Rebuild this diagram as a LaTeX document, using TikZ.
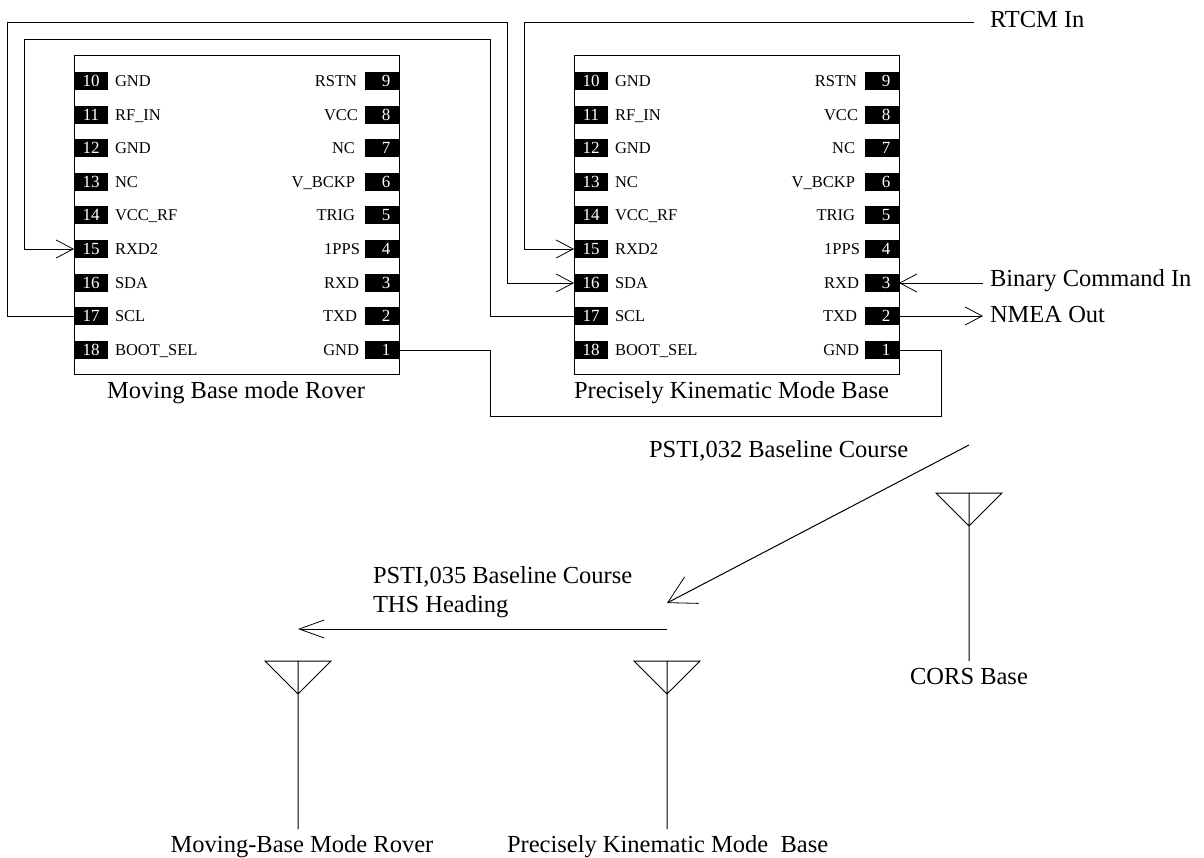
\documentclass[tikz,border=0pt]{standalone}
\usepackage{fontspec}
\setmainfont{Liberation Serif}
\usetikzlibrary{arrows.meta, positioning}
\tikzset
{
pin/.style={fill=black, text=white, inner sep=0pt, outer sep=0pt, minimum width=34pt, minimum height=18pt, font=\fontsize{17}{17}\selectfont},
pintext/.style={inner sep=0pt, outer sep=0pt, text height=11pt, text depth=0pt, font=\fontsize{16.5}{17}\selectfont},
title/.style={inner sep=0pt, outer sep=0pt, font=\fontsize{24.5}{26}\selectfont},
chipbox/.style={draw, inner sep=0pt, outer sep=0pt, minimum width=325pt, minimum height=319pt},
wire/.style={line width=1pt},
sig/.style={line width=1pt, -{Straight Barb[length=17pt, width=18pt, line width=0.8pt]}},
longsig/.style={line width=1pt, -{Straight Barb[length=25pt, width=18pt, line width=0.8pt]}},
bigsig/.style={line width=1pt, -{Straight Barb[length=27pt, width=30pt, line width=0.8pt]}},
chip/.pic={
	\node [chipbox, anchor=north west] (box) at (0, 0) {};
	\foreach \n/\t/\y in {10/GND/26, 11/RF\_IN/60, 12/GND/93, 13/NC/127, 14/VCC\_RF/160, 15/RXD2/194, 16/SDA/228, 17/SCL/261, 18/BOOT\_SEL/295}
	{
		\node [pin, anchor=west] (\n) at (0, \y) {\n};
		\node [pintext, right=7pt of \n] (t\n) {\t};
	}
	\foreach \n/\t/\y/\g in {9/RSTN/26/8, 8/VCC/60/7, 7/NC/93/10, 6/V\_BCKP/127/10, 5/TRIG/160/10, 4/1PPS/194/5, 3/RXD/228/6, 2/TXD/261/8, 1/GND/295/6}
	{
		\node [pin, anchor=east] (\n) at (325, \y) {\hspace{8pt}\n};
		\node [pintext, left=\g pt of \n] (t\n) {\t};
	}
},
antenna/.pic={
	\coordinate (l) at (-33, 0);
	\coordinate (r) at (33, 0);
	\coordinate (v) at (0, 33);
	\coordinate (top) at (0, 0);
	\coordinate (f) at (0, 168);
	\draw [wire] (l) -- (r) -- (v) -- cycle (top) -- (f);
}
}
\begin{document}
\begin{tikzpicture}[x=1pt, y=-1pt]
	\useasboundingbox (0, 0) rectangle (1204, 857);

	\pic (a) at (74, 55) {chip};
	\pic (b) at (574, 55) {chip};
	\node [title, anchor=north west] (atitle) at (107, 381) {Moving Base mode Rover};
	\node [title, anchor=north west] (btitle) at (574, 381) {Precisely Kinematic Mode Base};

	\coordinate (c1) at (7, 22);
	\coordinate (c2) at (507, 22);
	\coordinate (c3) at (24, 39);
	\coordinate (c4) at (490, 39);
	\coordinate (c5) at (974, 22);
	\coordinate (c6) at (524, 22);
	\coordinate (c7) at (490, 416);
	\coordinate (c8) at (941, 416);

	\draw [sig] (a17.west) -| (c1) -- (c2) |- (b16.west);
	\draw [sig] (b17.west) -| (c4) -- (c3) |- (a15.west);
	\draw [sig] (c5) -- (c6) |- (b15.west);
	\draw [wire] (a1.east) -| (c7) -- (c8) |- (b1.east);

	\node [title, anchor=west] (rtcm) at (990, 20) {RTCM In};
	\node [title, anchor=west] (bin) at (990, 281) {Binary Command In};
	\node [title, anchor=west] (nmea) at (990, 315) {NMEA Out};
	\coordinate (binend) at (983, 283);
	\coordinate (nmeaend) at (983, 316);
	\draw [sig] (binend) -- (b3.east);
	\draw [sig] (b2.east) -- (nmeaend);

	\pic (cors) at (969, 493) {antenna};
	\pic (pk) at (667, 661) {antenna};
	\pic (mb) at (298, 661) {antenna};
	\node [title, anchor=north] (corstext) at (969, 668) {CORS Base};
	\node [title, anchor=north] (mbtext) at (302, 835) {Moving-Base Mode Rover};
	\node [title, anchor=north west] (pktext) at (507, 835) {Precisely Kinematic Mode~ Base};

	\coordinate (s1) at (969, 445);
	\coordinate (s2) at (667, 603);
	\coordinate (s3) at (667, 629);
	\coordinate (s4) at (298, 629);
	\draw [bigsig] (s1) -- (s2);
	\draw [longsig] (s3) -- (s4);
	\node [title, anchor=west] (psti32) at (649, 451) {PSTI,032 Baseline Course};
	\node [title, anchor=west] (psti35) at (373, 577) {PSTI,035 Baseline Course};
	\node [title, anchor=west] (ths) at (373, 607) {THS Heading};
\end{tikzpicture}
\end{document}
